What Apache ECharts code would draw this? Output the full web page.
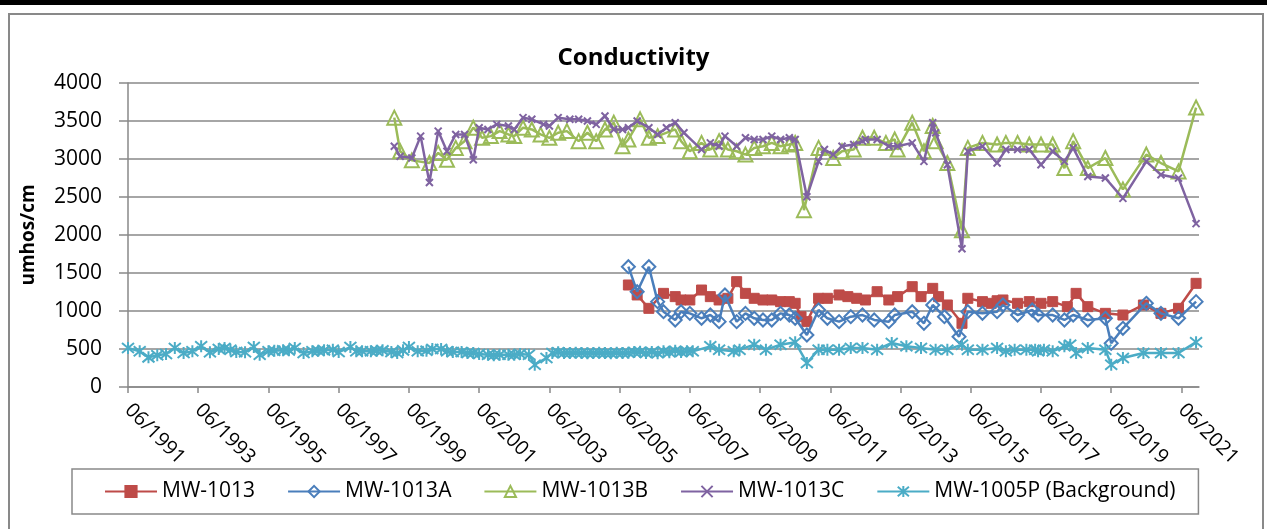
<!DOCTYPE html>
<html>
<head>
<meta charset="utf-8">
<script src="https://cdn.jsdelivr.net/npm/echarts@6/dist/echarts.min.js"></script>
<style>
html,body{margin:0;padding:0;background:#fff;}
#chart{width:1267px;height:529px;}
</style>
</head>
<body>
<div id="chart"></div>
<script>
// ---------- data ----------
const chartTitle = 'Conductivity';
const yAxisTitle = 'umhos/cm';
const seriesNames = ['MW-1013', 'MW-1013A', 'MW-1013B', 'MW-1013C', 'MW-1005P (Background)'];
const xTickLabels = ['06/1991','06/1993','06/1995','06/1997','06/1999','06/2001','06/2003','06/2005','06/2007','06/2009','06/2011','06/2013','06/2015','06/2017','06/2019','06/2021'];

const mw1013Dates = ['2005-09','2005-12','2006-04','2006-09','2007-01','2007-03','2007-06','2007-10','2008-01','2008-04','2008-07','2008-10','2009-01','2009-04','2009-07','2009-10','2010-01','2010-04','2010-06','2010-08','2010-10','2011-02','2011-05','2011-09','2011-12','2012-03','2012-06','2012-10','2013-02','2013-05','2013-10','2014-01','2014-05','2014-07','2014-10','2015-03','2015-05','2015-10','2016-01','2016-03','2016-05','2016-10','2017-02','2017-06','2017-10','2018-03','2018-06','2018-10','2019-04','2019-10','2020-05','2020-11','2021-05','2021-11'];
const mw1013Values = [1342,1211,1035,1232,1189,1145,1145,1276,1189,1145,1167,1386,1232,1167,1145,1145,1123,1123,1101,925,860,1167,1167,1211,1189,1167,1145,1254,1145,1189,1320,1189,1298,1189,1079,838,1167,1123,1101,1135,1145,1101,1123,1101,1123,1057,1232,1057,969,947,1079,969,1035,1364];

const mw1013ADates = ['2005-09','2005-12','2006-04','2006-07','2006-09','2007-01','2007-03','2007-06','2007-10','2008-01','2008-04','2008-06','2008-10','2009-01','2009-04','2009-07','2009-10','2010-01','2010-04','2010-06','2010-10','2011-02','2011-05','2011-09','2012-01','2012-05','2012-09','2013-02','2013-04','2013-10','2014-02','2014-05','2014-09','2015-02','2015-05','2015-10','2016-03','2016-05','2016-10','2017-03','2017-05','2017-10','2018-02','2018-05','2018-10','2019-04','2019-06','2019-10','2020-06','2020-11','2021-05','2021-11'];
const mw1013AValues = [1583,1254,1583,1123,991,882,991,969,904,947,860,1211,860,969,904,882,882,969,947,904,684,1013,904,860,925,947,882,860,947,991,838,1079,925,662,991,970,991,1079,947,1013,947,947,882,947,882,904,575,772,1101,969,904,1123];

const mw1013BDates = ['1999-01','1999-03','1999-07','2000-01','2000-04','2000-07','2000-10','2001-01','2001-04','2001-07','2001-10','2002-01','2002-04','2002-06','2002-09','2002-12','2003-03','2003-06','2003-09','2003-12','2004-04','2004-07','2004-10','2005-01','2005-04','2005-07','2005-09','2006-01','2006-04','2006-07','2007-01','2007-03','2007-06','2007-10','2008-01','2008-04','2008-07','2008-10','2009-01','2009-04','2009-07','2009-10','2010-01','2010-04','2010-06','2010-09','2011-02','2011-07','2011-10','2012-02','2012-05','2012-09','2013-01','2013-04','2013-05','2013-10','2014-02','2014-05','2014-06','2014-10','2015-03','2015-05','2015-10','2016-03','2016-06','2016-10','2017-02','2017-06','2017-10','2018-02','2018-05','2018-10','2019-04','2019-10','2020-06','2020-11','2021-05','2021-11'];
const mw1013BValues = [3544,3102,2982,2947,3080,2991,3146,3235,3412,3279,3301,3367,3323,3301,3412,3389,3323,3279,3345,3367,3235,3345,3235,3389,3478,3168,3257,3522,3279,3301,3389,3235,3102,3212,3124,3235,3124,3102,3058,3146,3168,3212,3168,3190,3212,2327,3146,3013,3102,3124,3279,3279,3212,3257,3124,3478,3102,3434,3235,2947,2062,3146,3212,3190,3212,3212,3190,3190,3190,2880,3235,2880,3013,2600,3058,2947,2837,3677];

const mw1013CDates = ['1999-01','1999-03','1999-07','1999-10','2000-01','2000-04','2000-07','2000-10','2001-01','2001-04','2001-06','2001-09','2001-12','2002-04','2002-06','2002-09','2002-12','2003-04','2003-06','2003-09','2004-01','2004-04','2004-07','2004-10','2005-01','2005-04','2005-07','2005-09','2005-12','2006-04','2006-07','2006-10','2007-01','2007-04','2007-10','2008-01','2008-04','2008-06','2008-10','2009-01','2009-04','2009-07','2009-10','2010-01','2010-04','2010-06','2010-10','2011-02','2011-04','2011-07','2011-10','2012-02','2012-05','2012-06','2012-10','2013-02','2013-05','2013-10','2014-02','2014-05','2014-06','2014-10','2015-03','2015-05','2015-10','2016-03','2016-06','2016-10','2017-02','2017-06','2017-10','2018-02','2018-05','2018-10','2019-04','2019-10','2020-06','2020-11','2021-05','2021-11'];
const mw1013CValues = [3168,3035,3013,3301,2690,3367,3102,3323,3323,2991,3412,3389,3456,3434,3389,3544,3522,3456,3434,3544,3522,3522,3500,3456,3566,3389,3389,3412,3500,3412,3323,3412,3478,3345,3124,3212,3168,3301,3168,3279,3257,3257,3301,3257,3279,3257,2504,2969,3124,3058,3168,3190,3235,3257,3257,3168,3168,3212,2969,3478,3345,2925,1819,3102,3168,2947,3124,3124,3124,2925,3102,2969,3146,2770,2750,2482,2969,2792,2748,2150];

const mw1005PDates = ['1991-06','1991-10','1992-01','1992-04','1992-07','1992-10','1993-01','1993-04','1993-07','1993-10','1994-01','1994-03','1994-05','1994-07','1994-10','1995-01','1995-03','1995-06','1995-08','1995-11','1996-01','1996-03','1996-06','1996-09','1996-11','1997-01','1997-04','1997-06','1997-10','1997-12','1998-02','1998-05','1998-07','1998-09','1998-12','1999-02','1999-04','1999-06','1999-09','1999-12','2000-02','2000-05','2000-07','2000-09','2000-12','2001-02','2001-04','2001-06','2001-09','2001-11','2002-01','2002-04','2002-06','2002-08','2002-11','2003-01','2003-05','2003-07','2003-09','2003-11','2004-01','2004-03','2004-05','2004-07','2004-09','2004-11','2005-01','2005-03','2005-05','2005-07','2005-09','2005-11','2006-01','2006-03','2006-05','2006-07','2006-09','2006-11','2007-01','2007-03','2007-05','2007-07','2008-01','2008-04','2008-09','2008-11','2009-04','2009-08','2010-01','2010-06','2010-10','2011-02','2011-05','2011-09','2012-01','2012-05','2012-10','2013-03','2013-08','2014-01','2014-06','2014-10','2015-03','2015-05','2015-10','2016-03','2016-06','2016-09','2017-01','2017-04','2017-05','2017-07','2017-10','2018-02','2018-04','2018-06','2018-10','2019-04','2019-06','2019-10','2020-05','2020-11','2021-05','2021-11'];
const mw1005PValues = [513,469,390,417,434,513,447,469,535,456,500,513,491,460,456,526,425,469,478,482,482,513,447,469,478,482,491,460,526,469,469,469,478,482,460,447,482,526,469,478,500,500,469,460,460,447,447,434,425,417,425,425,425,434,425,294,382,447,456,447,447,452,447,443,447,452,447,443,452,447,452,460,465,447,460,443,469,456,478,460,469,469,535,491,469,491,557,491,557,590,316,491,491,491,513,513,491,579,535,513,491,491,557,491,491,513,469,491,491,491,469,491,469,535,557,447,513,491,294,381,447,447,447,590];

// ---------- helpers ----------
const toMonths = d => { const p = d.split('-').map(Number); return (p[0] - 1991) * 12 + (p[1] - 6); };
const pairs = (dates, vals) => dates.map((d, i) => [toMonths(d), vals[i]]);
const tickValues = xTickLabels.map((_, i) => i * 24);

const colors = ['#BE4B48', '#4A7EBB', '#9BBB59', '#7F63A1', '#4BACC6'];
const xPath = 'path://M0,0L10,10M10,0L0,10';
const starPath = 'path://M0,0L10,10M10,0L0,10M5,-1L5,11';
const FONT = 'Open Sans';

function mkSeries(idx, dates, vals, symbol, size, filled) {
  const c = colors[idx];
  return {
    name: seriesNames[idx],
    type: 'line',
    data: pairs(dates, vals),
    symbol: symbol,
    symbolSize: size,
    showSymbol: true,
    showAllSymbol: true,
    lineStyle: { color: c, width: 2.5 },
    itemStyle: filled ? { color: c, borderColor: c, borderWidth: 1 } : { color: 'rgba(255,255,255,0)', borderColor: c, borderWidth: 2 },
    emphasis: { disabled: true },
    animation: false,
    z: 2 + idx
  };
}

const chart = echarts.init(document.getElementById('chart'), null, { renderer: 'canvas' });
chart.setOption({
  backgroundColor: '#ffffff',
  animation: false,
  textStyle: { fontFamily: FONT, color: '#000' },
  title: {
    text: chartTitle, left: 'center', top: 41,
    textStyle: { fontFamily: FONT, fontWeight: 'bold', fontSize: 24, color: '#000' }
  },
  graphic: [
    { type: 'rect', shape: { x: 0, y: 0, width: 1267, height: 5 }, style: { fill: '#000' }, silent: true },
    { type: 'rect', shape: { x: 9, y: 14, width: 1254, height: 540 }, style: { fill: 'none', stroke: '#898989', lineWidth: 2 }, silent: true }
  ],
  legend: {
    left: 72, top: 469,
    padding: [11, 23, 11, 32],
    itemGap: 32,
    itemWidth: 52, itemHeight: 14,
    borderColor: '#898989', borderWidth: 1.5,
    textStyle: { fontFamily: FONT, fontSize: 21, color: '#000', lineHeight: 23 },
    data: seriesNames
  },
  grid: { left: 128, right: 68, top: 83, bottom: 142, containLabel: false },
  xAxis: {
    type: 'value', min: 0, max: 366, interval: 24,
    axisLine: { show: true, lineStyle: { color: '#898989', width: 1.5 } },
    axisTick: { show: true, length: 6, customValues: tickValues, lineStyle: { color: '#898989', width: 1.5 } },
    axisLabel: {
      customValues: tickValues,
      rotate: -45, margin: 20,
      fontFamily: FONT, fontSize: 20, color: '#000',
      formatter: v => { const i = Math.round(v / 24); return (v % 24 === 0 && xTickLabels[i]) ? xTickLabels[i] : ''; }
    },
    splitLine: { show: false }
  },
  yAxis: {
    type: 'value', min: 0, max: 4000, interval: 500,
    name: yAxisTitle, nameLocation: 'middle', nameGap: 90, nameRotate: 90,
    nameTextStyle: { fontFamily: FONT, fontWeight: 'bold', fontSize: 19, color: '#000' },
    axisLine: { show: true, lineStyle: { color: '#898989', width: 1.5 } },
    axisTick: { show: true, length: 9, lineStyle: { color: '#898989', width: 1.5 } },
    axisLabel: { margin: 26, fontFamily: FONT, fontSize: 21, color: '#000', formatter: v => String(v) },
    splitLine: { show: true, lineStyle: { color: '#898989', width: 1.5 } }
  },
  series: [
    mkSeries(0, mw1013Dates, mw1013Values, 'rect', 10, true),
    mkSeries(1, mw1013ADates, mw1013AValues, 'diamond', 13, false),
    mkSeries(2, mw1013BDates, mw1013BValues, 'triangle', 14, false),
    mkSeries(3, mw1013CDates, mw1013CValues, xPath, 7, false),
    mkSeries(4, mw1005PDates, mw1005PValues, starPath, 12, false)
  ]
});
</script>
</body>
</html>
